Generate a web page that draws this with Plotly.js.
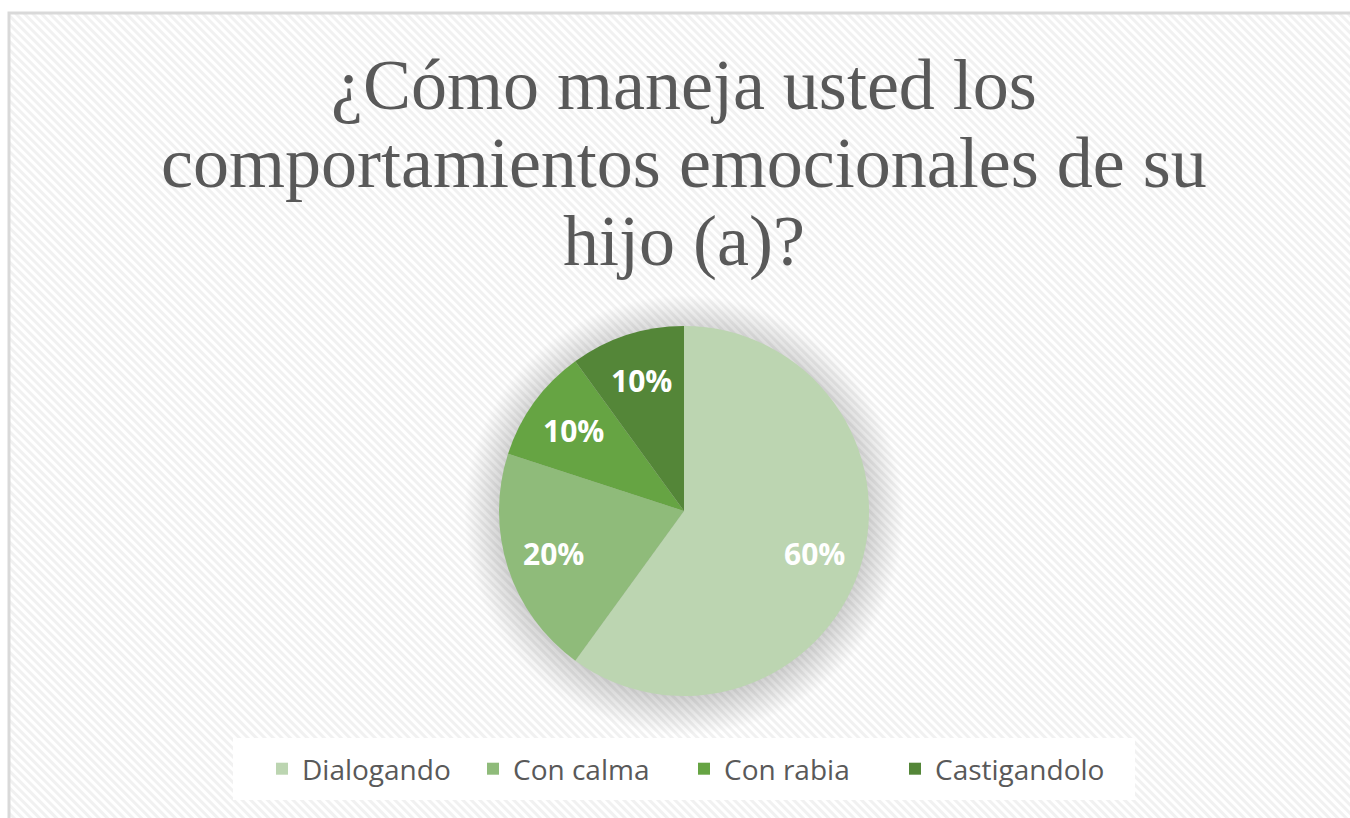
<!DOCTYPE html>
<html><head><meta charset="utf-8">
<script src="https://cdn.plot.ly/plotly-3.0.1.min.js"></script>
<style>html,body{margin:0;padding:0;background:#fff}#c{width:1350px;height:818px}</style>
</head><body><div id="c"></div>
<script>
const categories = ["Dialogando", "Con calma", "Con rabia", "Castigandolo"];
const values = [60, 20, 10, 10];
const colors = ["#bcd5b1", "#8fbb7a", "#66a443", "#548638"];
const titleLines = ["¿Cómo maneja usted los", "comportamientos emocionales de su", "hijo (a)?"];

const H = 818, W = 1350;
const CX = 684, CY = 511, R = 185;

const stripes = 'data:image/svg+xml;utf8,' + encodeURIComponent(
 '<svg xmlns="http://www.w3.org/2000/svg" width="1350" height="818">' +
 '<defs><pattern id="p" width="6" height="6" patternUnits="userSpaceOnUse" patternTransform="rotate(-45)">' +
 '<rect width="6" height="6" fill="#ffffff"/><rect width="3" height="6" fill="#f1f1f1"/></pattern>' +
 '<radialGradient id="g" cx="0.5" cy="0.5" r="0.5"><stop offset="0.8" stop-color="#000" stop-opacity="0.2"/><stop offset="1" stop-color="#000" stop-opacity="0"/></radialGradient></defs>' +
 '<rect x="9" y="13" width="1345" height="810" fill="url(#p)" stroke="#d9d9d9" stroke-width="3"/>' +
 '<circle cx="' + CX + '" cy="' + (CY + 4) + '" r="' + (R + 35) + '" fill="url(#g)"/>' +
 '<rect x="233" y="738" width="902" height="62" fill="#ffffff"/>' +
 '</svg>');

const trace = {
  type: "pie",
  labels: categories,
  values: values,
  sort: false,
  direction: "clockwise",
  rotation: 0,
  marker: {colors: colors, line: {width: 0}},
  textinfo: "none",
  domain: {x: [(2 * CX - W) / W, 1], y: [(H - CY - R) / H, (H - CY + R) / H]},
  hoverinfo: "none"
};

// percentage labels positioned from the data (mid-angle of each slice)
const total = values.reduce((a, b) => a + b, 0);
const annotations = [];
let cum = 0;
values.forEach((v, i) => {
  const mid = (cum + v / 2) / total * 2 * Math.PI;
  cum += v;
  const rr = 0.74 * R;
  annotations.push({
    xref: "paper", yref: "paper",
    x: (CX + Math.sin(mid) * rr) / W,
    y: 1 - (CY - Math.cos(mid) * rr) / H,
    xanchor: "center", yanchor: "middle", showarrow: false,
    text: Math.round(v / total * 100) + "%",
    font: {family: "Open Sans, sans-serif", size: 30, color: "#ffffff", weight: 700}
  });
});
const baselines = [107, 185, 263];
titleLines.forEach((t, i) => {
  annotations.push({
    xref: "paper", yref: "paper", x: CX / W, y: 1 - (baselines[i] - 22) / H,
    xanchor: "center", yanchor: "middle", showarrow: false, text: t,
    font: {family: "Liberation Serif, DejaVu Serif, serif", size: 72, color: "#595959"}
  });
});

const layout = {
  width: W, height: H,
  margin: {l: 0, r: 0, t: 0, b: 0},
  paper_bgcolor: "rgba(0,0,0,0)",
  plot_bgcolor: "rgba(0,0,0,0)",
  showlegend: true,
  legend: {orientation: "h", x: CX / W, xanchor: "center", y: 1 - 769 / H, yanchor: "middle",
           font: {family: "Open Sans, sans-serif", size: 28, color: "#595959"},
           bgcolor: "rgba(0,0,0,0)", itemwidth: 30, traceorder: "normal",
           entrywidth: 166, entrywidthmode: "pixels"},
  annotations: annotations,
  images: [{source: stripes, xref: "paper", yref: "paper", x: 0, y: 1, sizex: 1, sizey: 1,
            xanchor: "left", yanchor: "top", sizing: "stretch", layer: "below"}]
};

Plotly.newPlot("c", [trace], layout, {displayModeBar: false});
</script></body></html>
